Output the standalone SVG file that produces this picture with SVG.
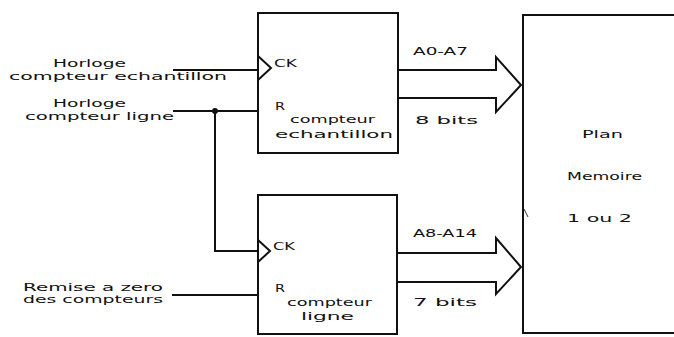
<svg xmlns="http://www.w3.org/2000/svg" width="674" height="337" viewBox="0 0 674 337">
<style>
.l{stroke:#111;stroke-width:2;fill:none}
.b{stroke:#111;stroke-width:2;fill:#fff}
text{font-family:"DejaVu Sans",sans-serif;font-size:11px;fill:#111}
</style>
<rect width="674" height="337" fill="#fff"/>
<g id="connectors">
<line class="l" x1="173" y1="70" x2="258" y2="70"/>
<line class="l" x1="173" y1="111" x2="258" y2="111"/>
<polyline class="l" points="215,111 215,251 258,251"/>
<circle cx="215" cy="111" r="3" fill="#111"/>
<line class="l" x1="172" y1="295" x2="258" y2="295"/>
<polygon class="b" points="398,70 496,70 496,57 521,85 496,112 496,98 398,98"/>
<polygon class="b" points="397,253 496,253 496,238 521,267 496,294 496,282 397,282"/>
</g>
<g id="compteur-echantillon">
<rect class="b" x="258" y="13" width="140" height="140"/>
<polyline class="l" points="258,56 271,68 258,80"/>
<text x="274" y="67" textLength="23" lengthAdjust="spacingAndGlyphs">CK</text>
<text x="275" y="110" textLength="10" lengthAdjust="spacingAndGlyphs">R</text>
<text x="290" y="123" textLength="85" lengthAdjust="spacingAndGlyphs">compteur</text>
<text x="275" y="138" textLength="118" lengthAdjust="spacingAndGlyphs">echantillon</text>
</g>
<g id="compteur-ligne">
<rect class="b" x="258" y="195" width="139" height="139"/>
<polyline class="l" points="258,240 270,251 258,262"/>
<text x="273" y="250" textLength="22" lengthAdjust="spacingAndGlyphs">CK</text>
<text x="275" y="292" textLength="10" lengthAdjust="spacingAndGlyphs">R</text>
<text x="287" y="306" textLength="85" lengthAdjust="spacingAndGlyphs">compteur</text>
<text x="301" y="320" textLength="53" lengthAdjust="spacingAndGlyphs">ligne</text>
</g>
<g id="plan-memoire">
<rect class="b" x="523" y="15" width="160" height="318"/>
<line x1="524" y1="209" x2="528" y2="217" stroke="#333" stroke-width="1"/>
<text x="582" y="138" textLength="41" lengthAdjust="spacingAndGlyphs">Plan</text>
<text x="567" y="180" textLength="75" lengthAdjust="spacingAndGlyphs">Memoire</text>
<text x="567" y="222" textLength="65" lengthAdjust="spacingAndGlyphs">1 ou 2</text>
</g>
<g id="labels">
<text x="53" y="67" textLength="73" lengthAdjust="spacingAndGlyphs">Horloge</text>
<text x="9" y="80" textLength="218" lengthAdjust="spacingAndGlyphs">compteur echantillon</text>
<text x="53" y="107" textLength="73" lengthAdjust="spacingAndGlyphs">Horloge</text>
<text x="25" y="120" textLength="149" lengthAdjust="spacingAndGlyphs">compteur ligne</text>
<text x="23" y="291" textLength="140" lengthAdjust="spacingAndGlyphs">Remise a zero</text>
<text x="23" y="303" textLength="140" lengthAdjust="spacingAndGlyphs">des compteurs</text>
<text x="413" y="55" textLength="55" lengthAdjust="spacingAndGlyphs">A0-A7</text>
<text x="415" y="124" textLength="63" lengthAdjust="spacingAndGlyphs">8 bits</text>
<text x="413" y="237" textLength="64" lengthAdjust="spacingAndGlyphs">A8-A14</text>
<text x="413" y="306" textLength="64" lengthAdjust="spacingAndGlyphs">7 bits</text>
</g>
</svg>
